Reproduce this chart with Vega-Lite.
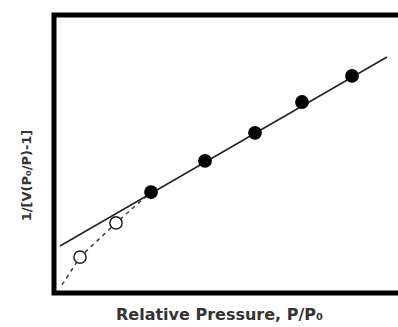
{
  "$schema": "https://vega.github.io/schema/vega-lite/v6.json",
  "width": 350,
  "height": 278,
  "autosize": {"type": "none"},
  "padding": {"left": 54, "top": 15, "right": 0, "bottom": 34},
  "background": "white",
  "config": {
    "view": {"stroke": "black", "strokeWidth": 5},
    "font": "DejaVu Sans"
  },
  "datasets": {
    "fit": [
      {"p": 0.006, "v": 0.169},
      {"p": 0.333, "v": 0.849}
    ],
    "lowfit": [
      {"p": 0.008, "v": 0.029},
      {"p": 0.026, "v": 0.129},
      {"p": 0.062, "v": 0.252},
      {"p": 0.097, "v": 0.363}
    ],
    "open": [
      {"p": 0.026, "v": 0.129},
      {"p": 0.062, "v": 0.252}
    ],
    "filled": [
      {"p": 0.097, "v": 0.363},
      {"p": 0.151, "v": 0.475},
      {"p": 0.201, "v": 0.576},
      {"p": 0.248, "v": 0.687},
      {"p": 0.298, "v": 0.781}
    ]
  },
  "encoding": {
    "x": {
      "field": "p", "type": "quantitative",
      "scale": {"domain": [0, 0.35], "nice": false, "zero": false},
      "axis": {
        "title": "Relative Pressure, P/P₀",
        "domain": false, "ticks": false, "labels": false, "grid": false,
        "titleFont": "DejaVu Sans", "titleFontSize": 16, "titleFontWeight": "bold",
        "titleColor": "#333", "titlePadding": 13, "titleX": 165
      }
    },
    "y": {
      "field": "v", "type": "quantitative",
      "scale": {"domain": [0, 1], "nice": false, "zero": false},
      "axis": {
        "title": "1/[V(P₀/P)-1]",
        "domain": false, "ticks": false, "labels": false, "grid": false,
        "titleFont": "DejaVu Sans", "titleFontSize": 13, "titleFontWeight": "bold",
        "titleColor": "#333", "titlePadding": 21, "titleY": 160
      }
    }
  },
  "layer": [
    {
      "data": {"name": "lowfit"},
      "mark": {"type": "line", "color": "#444", "strokeWidth": 1.5, "strokeDash": [4, 4]}
    },
    {
      "data": {"name": "fit"},
      "mark": {"type": "line", "color": "#222", "strokeWidth": 1.5}
    },
    {
      "data": {"name": "open"},
      "mark": {"type": "point", "shape": "circle", "filled": true, "fill": "white", "stroke": "#222", "strokeWidth": 1.5, "size": 150, "opacity": 1}
    },
    {
      "data": {"name": "filled"},
      "mark": {"type": "circle", "color": "black", "size": 190, "opacity": 1}
    }
  ]
}
